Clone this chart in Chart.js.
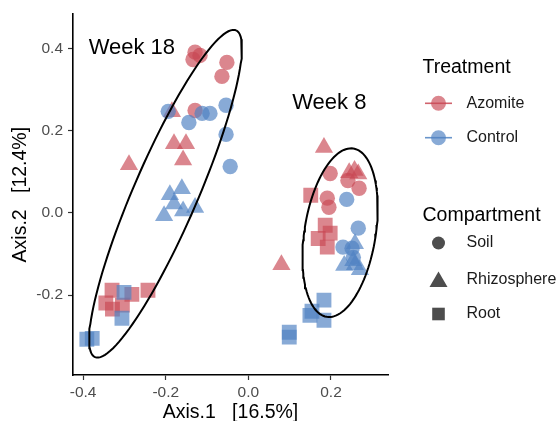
<!DOCTYPE html>
<html>
<head>
<meta charset="utf-8">
<script src="https://cdn.jsdelivr.net/npm/chart.js@4.4.1/dist/chart.umd.min.js"></script>
<style>
  html, body { margin: 0; padding: 0; background: #ffffff; }
  #wrap { width: 556px; height: 421px; }
</style>
</head>
<body>
<div id="wrap"><canvas id="pcoa" width="556" height="421"></canvas></div>
<script>
// PCoA ordination: Axis.1 / Axis.2 scores per sample, [x, y]
const azomiteSoil = [
  [-0.129, 0.391], [-0.117, 0.383], [-0.134, 0.373], [-0.052, 0.366], [-0.064, 0.332], [-0.129, 0.249],
  [0.198, 0.096], [0.241, 0.079], [0.268, 0.060], [0.191, 0.036], [0.195, 0.014]
];
const controlSoil = [
  [-0.194, 0.247], [-0.144, 0.220], [-0.112, 0.242], [-0.093, 0.242], [-0.054, 0.262], [-0.054, 0.191], [-0.044, 0.113],
  [0.238, 0.033], [0.266, -0.037], [0.229, -0.083], [0.251, -0.086], [0.254, -0.108]
];
const azomiteRhizosphere = [
  [-0.185, 0.246], [-0.180, 0.168], [-0.151, 0.168], [-0.158, 0.129], [-0.289, 0.117],
  [0.183, 0.159], [0.244, 0.098], [0.257, 0.103], [0.266, 0.095], [0.080, -0.126]
];
const controlRhizosphere = [
  [-0.190, 0.044], [-0.161, 0.059], [-0.180, 0.022], [-0.204, -0.007], [-0.158, 0.005], [-0.129, 0.013],
  [0.258, -0.075], [0.232, -0.128], [0.258, -0.126], [0.270, -0.138], [0.254, -0.116]
];
const azomiteRoot = [
  [-0.330, -0.188], [-0.243, -0.188], [-0.282, -0.198], [-0.345, -0.219], [-0.329, -0.234], [-0.305, -0.224],
  [0.151, 0.043], [0.186, -0.030], [0.169, -0.062], [0.198, -0.049], [0.191, -0.083]
];
const controlRoot = [
  [-0.301, -0.193], [-0.306, -0.256], [-0.391, -0.307], [-0.378, -0.305],
  [0.183, -0.212], [0.154, -0.239], [0.183, -0.261], [0.149, -0.249], [0.099, -0.290], [0.099, -0.302]
];

// Confidence ellipses per harvest week: centre, major and minor half-axis vectors
const week18Centre = [-0.2005, 0.0467];
const week18Major = [0.1707, 0.3973];
const week18Minor = [0.0712, -0.0309];
const week8Centre = [0.222, -0.048];
const week8Major = [0.0322, 0.2046];
const week8Minor = [0.0852, -0.0135];

// Group annotations: text and anchor position
const weekLabels = ['Week 18', 'Week 8'];
const weekLabelPos = [[-0.282, 0.400], [0.196, 0.267]];

const xTicks = [-0.4, -0.2, 0.0, 0.2];
const yTicks = [-0.2, 0.0, 0.2, 0.4];
const xRange = [-0.4245, 0.338];
const yRange = [-0.394, 0.483];

const treatmentLabels = ['Azomite', 'Control'];
const compartmentLabels = ['Soil', 'Rhizosphere', 'Root'];

const RED = 'rgba(201, 72, 84, 0.66)';
const BLUE = 'rgba(79, 130, 194, 0.68)';
const RED_LINE = 'rgba(201, 72, 84, 0.85)';
const BLUE_LINE = 'rgba(79, 130, 194, 0.85)';
const FONT = '"Liberation Sans", Arial, Helvetica, sans-serif';

const toXY = arr => arr.map(p => ({ x: p[0], y: p[1] }));

function ellipsePath(c, a, b) {
  const pts = [];
  const n = 120;
  for (let i = 0; i <= n; i++) {
    const t = (i / n) * Math.PI * 2;
    pts.push({
      x: c[0] + a[0] * Math.cos(t) + b[0] * Math.sin(t),
      y: c[1] + a[1] * Math.cos(t) + b[1] * Math.sin(t)
    });
  }
  return pts;
}

function pointSet(label, data, color, style, radius) {
  return {
    label, data: toXY(data), order: 1,
    pointStyle: style, pointRadius: radius, pointHoverRadius: radius,
    backgroundColor: color, borderColor: color, borderWidth: 0, showLine: false
  };
}

function ellipseSet(label, c, a, b) {
  return {
    label, data: ellipsePath(c, a, b), order: 0, showLine: true,
    pointRadius: 0, borderColor: '#000000', borderWidth: 2, fill: false, tension: 0
  };
}

// Annotations and the two-part legend drawn after the plot
const overlay = {
  id: 'overlay',
  afterDraw(chart) {
    const ctx = chart.ctx;
    const xs = chart.scales.x, ys = chart.scales.y;
    ctx.save();
    ctx.fillStyle = '#000000';
    ctx.textBaseline = 'middle';
    ctx.textAlign = 'center';
    ctx.font = '22px ' + FONT;
    weekLabels.forEach((t, i) => {
      ctx.fillText(t, xs.getPixelForValue(weekLabelPos[i][0]), ys.getPixelForValue(weekLabelPos[i][1]));
    });

    const keyX = 438.5, textX = 466.5, titleX = 422.5;
    ctx.textAlign = 'left';
    ctx.font = '19.5px ' + FONT;
    ctx.fillText('Treatment', titleX, 67.5);
    ctx.fillText('Compartment', titleX, 216);

    const tColors = [RED, BLUE], tLines = [RED_LINE, BLUE_LINE];
    ctx.font = '16px ' + FONT;
    treatmentLabels.forEach((t, i) => {
      const y = 103.3 + i * 34.4;
      ctx.strokeStyle = tLines[i];
      ctx.lineWidth = 1.6;
      ctx.beginPath(); ctx.moveTo(425, y); ctx.lineTo(452, y); ctx.stroke();
      ctx.fillStyle = tColors[i];
      ctx.beginPath(); ctx.arc(keyX, y, 7.5, 0, Math.PI * 2); ctx.fill();
      ctx.fillStyle = '#1a1a1a';
      ctx.fillText(t, textX, y);
    });

    const shapeY = [243, 279.5, 314];
    compartmentLabels.forEach((t, i) => {
      const y = shapeY[i];
      ctx.fillStyle = '#4d4d4d';
      ctx.beginPath();
      if (i === 0) {
        ctx.arc(keyX, y, 6.5, 0, Math.PI * 2);
      } else if (i === 1) {
        ctx.moveTo(keyX, y - 8); ctx.lineTo(keyX + 9, y + 7.5); ctx.lineTo(keyX - 9, y + 7.5); ctx.closePath();
      } else {
        ctx.rect(keyX - 6.3, y - 6.3, 12.6, 12.6);
      }
      ctx.fill();
      ctx.fillStyle = '#1a1a1a';
      ctx.fillText(t, textX, y);
    });
    ctx.restore();
  }
};

const fixTicks = vals => scale => { scale.ticks = vals.map(v => ({ value: v })); };

new Chart(document.getElementById('pcoa'), {
  type: 'scatter',
  data: {
    datasets: [
      ellipseSet('Week 18 ellipse', week18Centre, week18Major, week18Minor),
      ellipseSet('Week 8 ellipse', week8Centre, week8Major, week8Minor),
      pointSet('Control Soil', controlSoil, BLUE, 'circle', 7.7),
      pointSet('Azomite Soil', azomiteSoil, RED, 'circle', 7.7),
      pointSet('Control Rhizosphere', controlRhizosphere, BLUE, 'triangle', 10.5),
      pointSet('Azomite Rhizosphere', azomiteRhizosphere, RED, 'triangle', 10.5),
      pointSet('Control Root', controlRoot, BLUE, 'rect', 10.5),
      pointSet('Azomite Root', azomiteRoot, RED, 'rect', 10.5)
    ]
  },
  options: {
    responsive: false,
    devicePixelRatio: 1,
    animation: false,
    events: [],
    layout: { padding: { left: 0, top: 14, right: 168, bottom: 0 } },
    plugins: { legend: { display: false }, tooltip: { enabled: false } },
    scales: {
      x: {
        type: 'linear', min: xRange[0], max: xRange[1],
        afterBuildTicks: fixTicks(xTicks),
        afterFit: s => { s.height = 46; },
        grid: { display: true, drawOnChartArea: false, drawTicks: true, tickLength: 5, tickColor: '#333333', tickWidth: 1.2 },
        border: { display: true, color: '#000000', width: 1.6 },
        ticks: { color: '#4d4d4d', font: { family: FONT, size: 15.5 }, padding: 3, maxRotation: 0,
                 callback: v => v.toFixed(1) },
        title: { display: true, text: 'Axis.1   [16.5%]', color: '#000000',
                 font: { family: FONT, size: 19.5, lineHeight: 0.9 }, padding: { top: 0, bottom: 0 } }
      },
      y: {
        type: 'linear', min: yRange[0], max: yRange[1],
        afterBuildTicks: fixTicks(yTicks),
        afterFit: s => { s.width = 73; },
        grid: { display: true, drawOnChartArea: false, drawTicks: true, tickLength: 5, tickColor: '#333333', tickWidth: 1.2 },
        border: { display: true, color: '#000000', width: 1.6 },
        ticks: { color: '#4d4d4d', font: { family: FONT, size: 15.5 }, padding: 5,
                 callback: v => v.toFixed(1) },
        title: { display: true, text: 'Axis.2   [12.4%]', color: '#000000',
                 font: { family: FONT, size: 19.5, lineHeight: 1.2 }, padding: { top: 9, bottom: 0 } }
      }
    }
  },
  plugins: [overlay]
});
</script>
</body>
</html>
